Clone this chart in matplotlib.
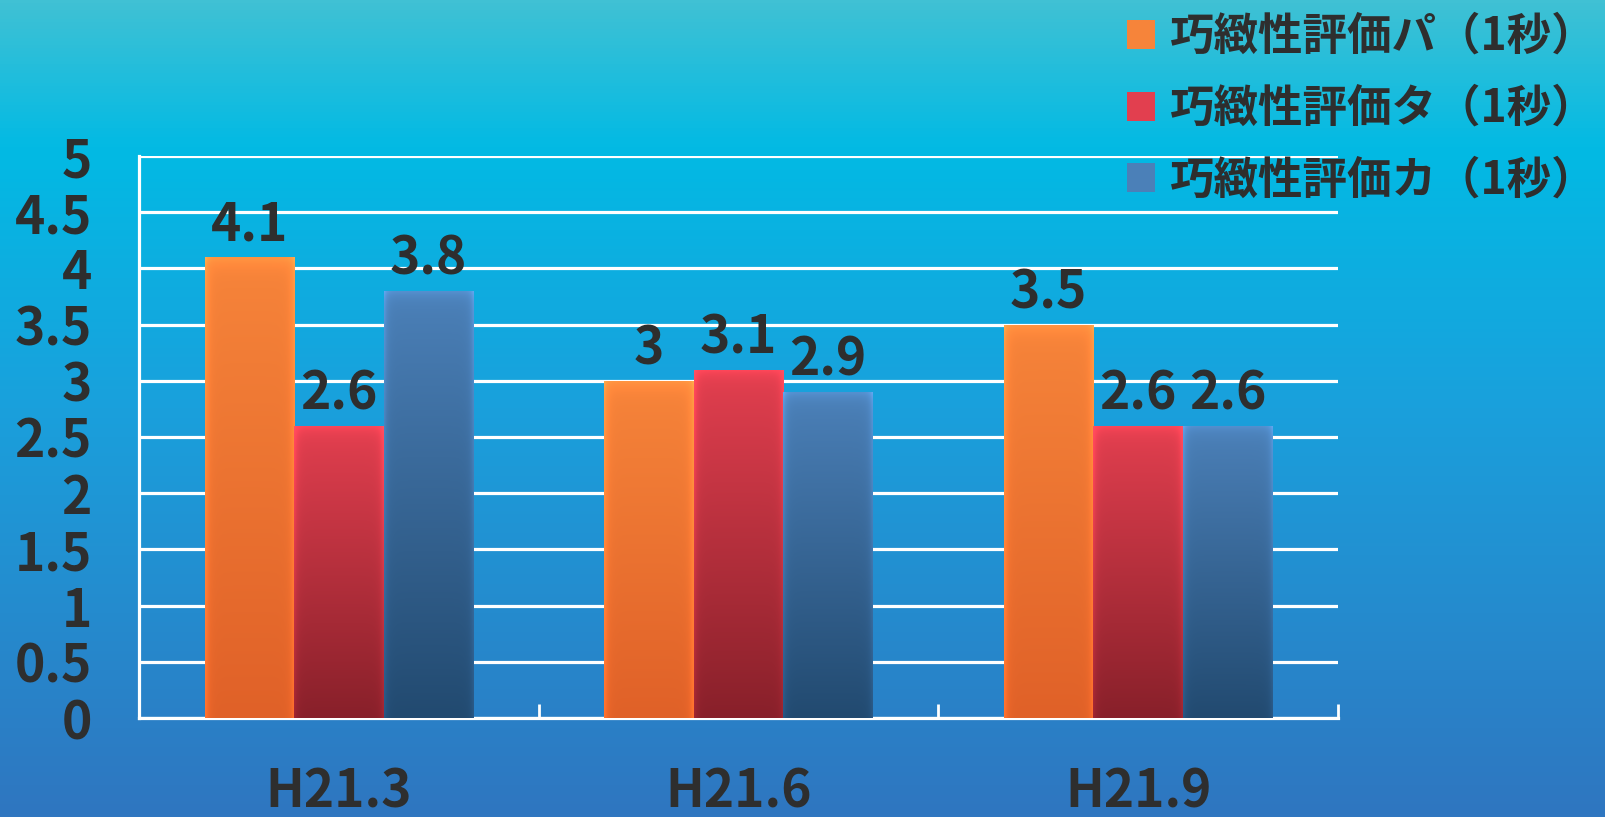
import numpy as np
import matplotlib.pyplot as plt
from matplotlib.colors import LinearSegmentedColormap, to_rgb
from matplotlib.patches import Patch

plt.rcParams['font.family'] = ['Noto Sans CJK JP', 'DejaVu Sans']

# data
categories = ['H21.3', 'H21.6', 'H21.9']
series_names = ['巧緻性評価パ（1秒）', '巧緻性評価タ（1秒）', '巧緻性評価カ（1秒）']
values_pa = [4.1, 3.0, 3.5]
values_ta = [2.6, 3.1, 2.6]
values_ka = [3.8, 2.9, 2.6]
y_ticks = [0, 0.5, 1, 1.5, 2, 2.5, 3, 3.5, 4, 4.5, 5]
y_tick_labels = ['0', '0.5', '1', '1.5', '2', '2.5', '3', '3.5', '4', '4.5', '5']

# (top colour, bottom colour) for each series
bar_colors = [('#f6843a', '#e06128'), ('#e23f4f', '#88202a'), ('#4b80b8', '#224a70')]
text_color = '#2e2e2e'

W, H = 1605, 817
fig = plt.figure(figsize=(W / 100, H / 100), dpi=100)

# background gradient
bg = fig.add_axes([0, 0, 1, 1], zorder=-1)
bg_cmap = LinearSegmentedColormap.from_list(
    'bg', [(0.0, '#40c1d4'), (0.18, '#02bae4'), (0.5, '#1aa0dc'), (1.0, '#2f76c0')])
bg.imshow(np.linspace(0, 1, 256).reshape(-1, 1), cmap=bg_cmap, aspect='auto',
          extent=[0, 1, 0, 1], origin='upper')
bg.axis('off')

ax = fig.add_axes([139 / W, 1 - 718 / H, (1338 - 139) / W, (718 - 156) / H])
ax.set_facecolor('none')

x = np.arange(len(categories))
width = 0.224
all_values = [values_pa, values_ta, values_ka]
containers = []
for i, vals in enumerate(all_values):
    c = ax.bar(x + (i - 1) * width, vals, width, color=bar_colors[i][0], zorder=2,
               linewidth=0)
    containers.append(c)


def shade(patch, top, bottom):
    x0, y0 = patch.get_x(), patch.get_y()
    w, h = patch.get_width(), patch.get_height()
    rows, cols = 120, 60
    t = np.linspace(0, 1, rows)[:, None]
    top, bottom = np.array(to_rgb(top)), np.array(to_rgb(bottom))
    base = top[None, None, :] * (1 - t[..., None]) + bottom[None, None, :] * t[..., None]
    base = np.repeat(base, cols, axis=1)
    u = np.linspace(0, 1, cols)[None, :]
    edge = np.minimum(u, 1 - u)
    light = 1 + 0.18 * np.exp(-edge / 0.035)
    vt = np.linspace(0, 1, rows)[:, None] * h
    light = light + 0.12 * np.exp(-vt / 0.06)
    img = np.clip(base * light[..., None], 0, 1)
    im = ax.imshow(img, extent=[x0, x0 + w, y0, y0 + h], aspect='auto',
                   origin='upper', zorder=3, interpolation='bilinear')
    im.set_clip_path(patch)


for i, c in enumerate(containers):
    for p in c.patches:
        shade(p, *bar_colors[i])
    ax.bar_label(c, labels=[f'{v:g}' for v in all_values[i]], padding=4,
                 fontsize=37, fontweight='bold', color=text_color, zorder=5)

ax.set_xlim(-0.5, 2.5)
ax.set_ylim(0, 5)

ax.set_yticks(y_ticks)
ax.set_yticklabels(y_tick_labels)
ax.yaxis.grid(True, color='white', linewidth=2.3, zorder=1)
ax.set_axisbelow(True)
ax.tick_params(axis='y', length=0, pad=34, labelsize=37, labelcolor=text_color)

ax.set_xticks(x)
ax.set_xticklabels(categories)
ax.set_xticks([0.5, 1.5, 2.5], minor=True)
ax.tick_params(axis='x', which='major', length=0, pad=34, labelsize=37,
               labelcolor=text_color)
ax.tick_params(axis='x', which='minor', direction='in', length=10, width=2,
               color='white')
for lab in ax.get_xticklabels() + ax.get_yticklabels():
    lab.set_fontweight('bold')

for s in ['left', 'bottom']:
    ax.spines[s].set_color('white')
    ax.spines[s].set_linewidth(2.3)
for s in ['top', 'right']:
    ax.spines[s].set_visible(False)

handles = [Patch(facecolor=c[0], edgecolor='none') for c in bar_colors]
fig.legend(handles, series_names, loc='upper left',
           bbox_to_anchor=(1127 / W, 1 - 14 / H), frameon=False,
           prop={'weight': 'bold', 'size': 32},
           labelcolor=text_color, handlelength=0.63, handleheight=0.63,
           handletextpad=0.33, labelspacing=0.58, borderaxespad=0, borderpad=0)

fig.savefig('out.png', dpi=100)
